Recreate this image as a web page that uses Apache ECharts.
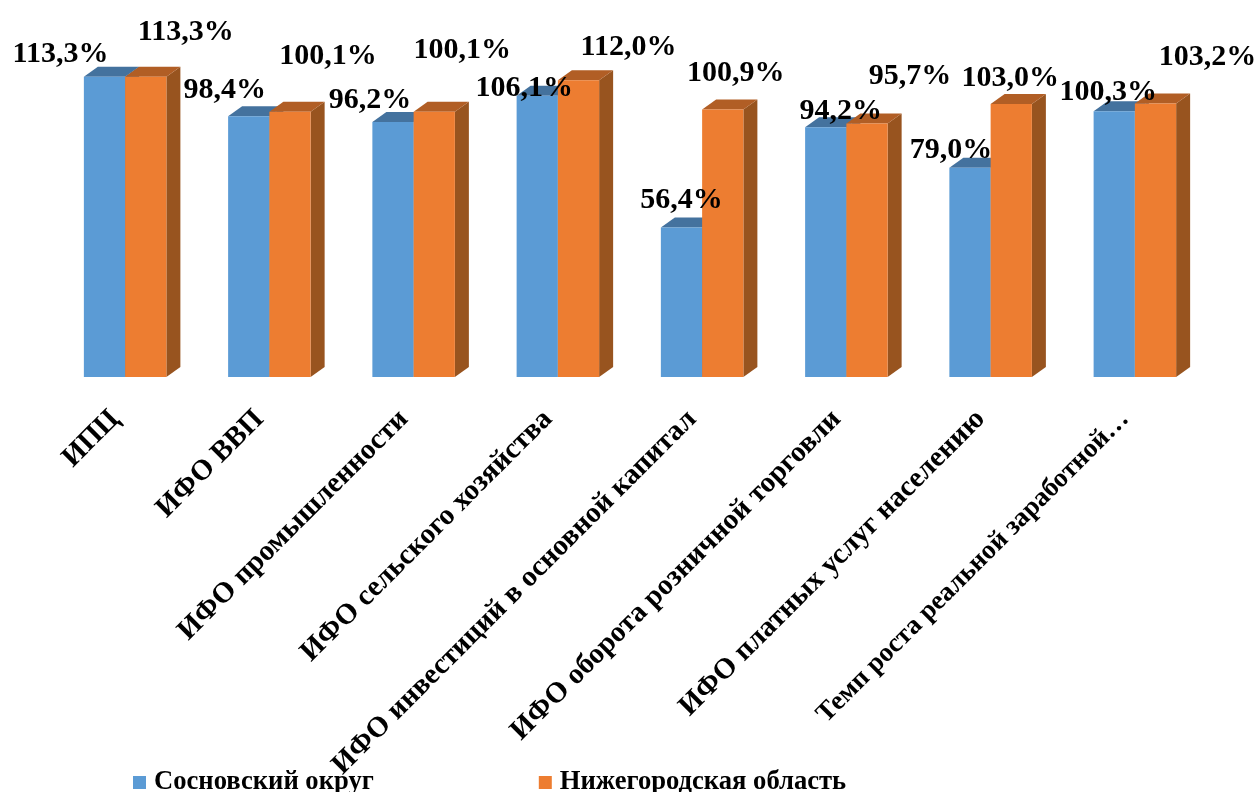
<!DOCTYPE html>
<html><head><meta charset="utf-8">
<style>html,body{margin:0;padding:0;background:#fff}#c{width:1259px;height:792px}</style>
<script src="https://cdn.jsdelivr.net/npm/echarts@6/dist/echarts.min.js"></script>
</head><body><div id="c"></div>
<script>
const categories = ['ИПЦ','ИФО ВВП','ИФО промышленности','ИФО сельского хозяйства','ИФО инвестиций в основной капитал','ИФО оборота розничной торговли','ИФО платных услуг населению','Темп роста реальной заработной…'];
const sosnovsky = [113.3,98.4,96.2,106.1,56.4,94.2,79.0,100.3];
const nizhny = [113.3,100.1,100.1,112.0,100.9,95.7,103.0,103.2];
const seriesNames = ['Сосновский округ','Нижегородская область'];
const labelShift = [
  [[-44,-25],[-24,-28],[-23,-24],[-13,-10],[0,-29],[15,-18],[-19,-19],[-6,-21]],
  [[40,-47],[38,-57],[28,-63],[50,-35],[13,-38],[43,-49],[-1,-28],[52,-48]]
];
const FONT = '"Liberation Serif","Times New Roman",serif';
const palette = [
  {front:'#5B9BD5',top:'#44729E',side:'#3F6A94'},
  {front:'#ED7D31',top:'#B15E25',side:'#98541F'}
];
const DX = 14, DY = 10;
function bar3d(si){
  return function(params, api){
    const i = api.value(0), v = api.value(1);
    const c = api.coord([i, v]), b = api.coord([i, 0]);
    const band = api.size([1,0])[0], w = band*0.286;
    const x0 = c[0] + (si===0 ? -w : 0), x1 = x0 + w;
    const p = palette[si], shift = labelShift[si][i];
    return {type:'group', children:[
      {type:'polygon', shape:{points:[[x1,c[1]],[x1+DX,c[1]-DY],[x1+DX,b[1]-DY],[x1,b[1]]]}, style:{fill:p.side}},
      {type:'polygon', shape:{points:[[x0,c[1]],[x0+DX,c[1]-DY],[x1+DX,c[1]-DY],[x1,c[1]]]}, style:{fill:p.top}},
      {type:'rect', shape:{x:x0,y:c[1],width:w,height:b[1]-c[1]}, style:{fill:p.front}},
      {type:'text', z2:10, style:{x:(x0+x1)/2+shift[0], y:c[1]+shift[1]+2, text:v.toFixed(1).replace('.',',')+'%',
        font:'bold 30px '+FONT, fill:'#000', textAlign:'center', textVerticalAlign:'middle'}}
    ]};
  };
}
const chart = echarts.init(document.getElementById('c'));
chart.setOption({
  animation:false,
  backgroundColor:'#fff',
  grid:{left:53,width:1154,top:59,height:318,containLabel:false},
  legend:{left:128,top:764,itemWidth:13,itemHeight:13,itemGap:165,icon:'rect',
    data:seriesNames,
    textStyle:{fontFamily:FONT,fontWeight:'bold',fontSize:26.6,color:'#000',padding:[0,0,0,3]}},
  xAxis:{type:'category',
    data:categories.map((c,i)=> i===categories.length-1 ? {value:c,textStyle:{fontSize:27}} : c),
    axisLine:{show:false},axisTick:{show:false},
    axisLabel:{interval:0,rotate:45,margin:28,padding:[0,14,0,0],fontFamily:FONT,fontWeight:'bold',fontSize:29,color:'#000',overflow:'none'}},
  yAxis:{type:'value',min:0,max:120,show:false},
  series:[sosnovsky,nizhny].map((d,si)=>({
    type:'custom',name:seriesNames[si],renderItem:bar3d(si),
    encode:{x:0,y:1},clip:false,
    itemStyle:{color:palette[si].front},
    data:d.map((v,i)=>[i,v])
  }))
});
</script></body></html>
